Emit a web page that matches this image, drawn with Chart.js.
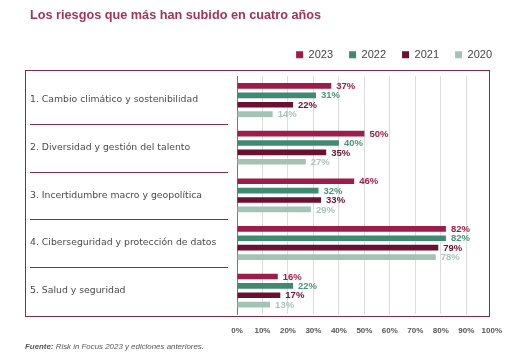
<!DOCTYPE html>
<html><head><meta charset="utf-8">
<script src="https://cdn.jsdelivr.net/npm/chart.js@4.4.0/dist/chart.umd.min.js"></script>
<style>html,body{margin:0;padding:0;background:#fff}#wrap{width:514px;height:357px;position:relative}</style>
</head><body><div id="wrap"><canvas id="c" width="514" height="357"></canvas></div>
<script>
const categories = [
  "1. Cambio climático y sostenibilidad",
  "2. Diversidad y gestión del talento",
  "3. Incertidumbre macro y geopolítica",
  "4. Ciberseguridad y protección de datos",
  "5. Salud y seguridad"
];
const seriesNames = ["2023", "2022", "2021", "2020"];
const values2023 = [37, 50, 46, 82, 16];
const values2022 = [31, 40, 32, 82, 22];
const values2021 = [22, 35, 33, 79, 17];
const values2020 = [14, 27, 29, 78, 13];
const xTicks = [0, 10, 20, 30, 40, 50, 60, 70, 80, 90, 100];
const titleText = "Los riesgos que más han subido en cuatro años";
const sourceLabel = "Fuente:";
const sourceText = " Risk in Focus 2023 y ediciones anteriores.";

const barColors = ["#9c1d48", "#3f8a70", "#6b1030", "#a3c4b5"];
const labelColors = ["#9c1d48", "#4a9478", "#6b1030", "#a8c6b8"];
const allValues = [values2023, values2022, values2021, values2020];

const LEGEND_PAD = 16;
const legendTweak = {
  id: 'legendTweak',
  beforeInit(chart) {
    const lg = chart.legend;
    const origFit = lg.fit;
    lg.fit = function () { origFit.call(this); this.height += 6; };
    const origDraw = lg.draw;
    lg.draw = function () {
      this.right += LEGEND_PAD; this.width += LEGEND_PAD;
      origDraw.apply(this, arguments);
      this.right -= LEGEND_PAD; this.width -= LEGEND_PAD;
    };
  }
};

const decorPlugin = {
  id: 'decor',
  beforeDatasetsDraw(chart) {
    const ctx = chart.ctx;
    const y = chart.scales.y;
    ctx.save();
    ctx.strokeStyle = '#7d2d4c';
    ctx.lineWidth = 1;
    ctx.strokeRect(25.5, 70.5, 464, 246);
    ctx.strokeStyle = '#7a3352';
    ctx.lineWidth = 1.2;
    for (let i = 0; i < categories.length - 1; i++) {
      const py = Math.round((y.getPixelForValue(i) + y.getPixelForValue(i + 1)) / 2) + 0.5;
      ctx.beginPath(); ctx.moveTo(30, py); ctx.lineTo(228, py); ctx.stroke();
    }
    ctx.restore();
  },
  afterDatasetsDraw(chart) {
    const ctx = chart.ctx;
    ctx.save();
    ctx.font = 'bold 9.5px "Liberation Sans", Arial, sans-serif';
    ctx.textBaseline = 'middle';
    ctx.textAlign = 'left';
    chart.data.datasets.forEach((ds, di) => {
      const meta = chart.getDatasetMeta(di);
      meta.data.forEach((bar, i) => {
        ctx.fillStyle = labelColors[di];
        ctx.fillText(ds.data[i] + '%', bar.x + 5, bar.y + 0.5);
      });
    });
    ctx.fillStyle = '#555';
    ctx.font = 'italic bold 7.9px "Liberation Sans", Arial, sans-serif';
    ctx.textBaseline = 'middle';
    ctx.fillText(sourceLabel, 25, 347);
    const w = ctx.measureText(sourceLabel).width;
    ctx.font = 'italic 7.9px "Liberation Sans", Arial, sans-serif';
    ctx.fillText(sourceText, 25 + w, 347);
    ctx.restore();
  }
};

new Chart(document.getElementById('c'), {
  type: 'bar',
  data: {
    labels: categories,
    datasets: seriesNames.map((n, i) => ({
      label: n,
      data: allValues[i],
      backgroundColor: barColors[i],
      borderWidth: 0,
      categoryPercentage: 0.79,
      barPercentage: 0.6
    }))
  },
  options: {
    indexAxis: 'y',
    responsive: false,
    animation: false,
    devicePixelRatio: 1,
    layout: { padding: { left: 30, right: 22, top: 8, bottom: 9 } },
    plugins: {
      title: {
        display: true,
        text: titleText,
        align: 'start',
        color: '#a0355a',
        font: { family: '"Liberation Sans", Arial, sans-serif', size: 12.7, weight: 'bold' },
        padding: { top: 0, bottom: 10 }
      },
      legend: {
        display: true,
        position: 'top',
        align: 'end',
        labels: {
          boxWidth: 7, boxHeight: 7, padding: LEGEND_PAD,
          color: '#444',
          font: { family: '"Liberation Sans", Arial, sans-serif', size: 11 }
        }
      },
      tooltip: { enabled: false }
    },
    scales: {
      x: {
        min: 0, max: 100,
        afterBuildTicks(s) { s.ticks = xTicks.map(v => ({ value: v })); },
        ticks: {
          color: '#555',
          font: { family: '"Liberation Sans", Arial, sans-serif', size: 8, weight: 'bold' },
          padding: 12,
          maxRotation: 0, minRotation: 0, autoSkip: false,
          callback: v => v + '%'
        },
        grid: {
          drawTicks: false,
          color: ctx => (ctx.tick && (ctx.tick.value === 0 || ctx.tick.value === 100)) ? 'rgba(0,0,0,0)' : '#dcdcdc',
          lineWidth: 1
        },
        border: { display: false }
      },
      y: {
        afterFit(s) { s.width = 207; },
        ticks: {
          crossAlign: 'far',
          color: '#4a4a4a',
          font: { family: '"DejaVu Sans", sans-serif', size: 9.3 },
          padding: 4
        },
        grid: { display: false, drawTicks: false },
        border: { display: true, color: '#777', dash: [1, 2], width: 1 }
      }
    }
  },
  plugins: [legendTweak, decorPlugin]
});
</script></body></html>
